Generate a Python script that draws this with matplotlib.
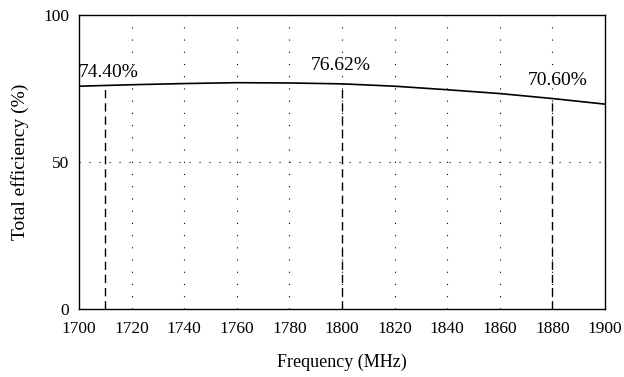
import numpy as np
import matplotlib.pyplot as plt

plt.rcParams['font.family'] = ['Liberation Serif', 'DejaVu Serif']

# Veri
freq = [1700, 1720, 1740, 1760, 1780, 1800, 1820, 1840, 1860, 1880, 1900]
eff = [75.8, 76.3, 76.7, 77.0, 76.9, 76.6, 75.8, 74.6, 73.3, 71.6, 69.7]

mark_freq = [1710, 1800, 1880]
mark_labels = ['74.40%', '76.62%', '70.60%']
label_x = [1700, 1788, 1870.5]
label_y = [80.6, 83.0, 77.6]

fig = plt.figure(figsize=(6.24, 3.77), dpi=100)
ax = fig.add_axes([0.1266, 0.1804, 0.843, 0.7796])

ax.plot(freq, eff, color='black', lw=1.2)

# Kesikli işaret çizgileri
for f in mark_freq:
    yv = np.interp(f, freq, eff)
    ax.plot([f, f], [0, yv], color='black', lw=1.0, dashes=(6, 3.5))

for x, y, s in zip(label_x, label_y, mark_labels):
    ax.text(x, y, s, fontsize=14, ha='left', va='center')

# Izgara
for f in range(1720, 1900, 20):
    ax.axvline(f, color='black', lw=0.8, ls=(0, (1, 10)))
ax.axhline(50, color='black', lw=0.8, ls=(0, (1, 8)))

ax.set_xlim(1700, 1900)
ax.set_ylim(0, 100)
ax.set_xticks(range(1700, 1901, 20))
ax.set_yticks([0, 50, 100])
ax.tick_params(length=0, labelsize=12.5)
ax.tick_params(axis='x', pad=9)
ax.tick_params(axis='y', pad=7)
ax.set_xlabel('Frequency (MHz)', fontsize=13, labelpad=12)
ax.set_ylabel('Total efficiency (%)', fontsize=14, labelpad=10)
for sp in ax.spines.values():
    sp.set_linewidth(1.0)

plt.savefig('out.png', dpi=100)
